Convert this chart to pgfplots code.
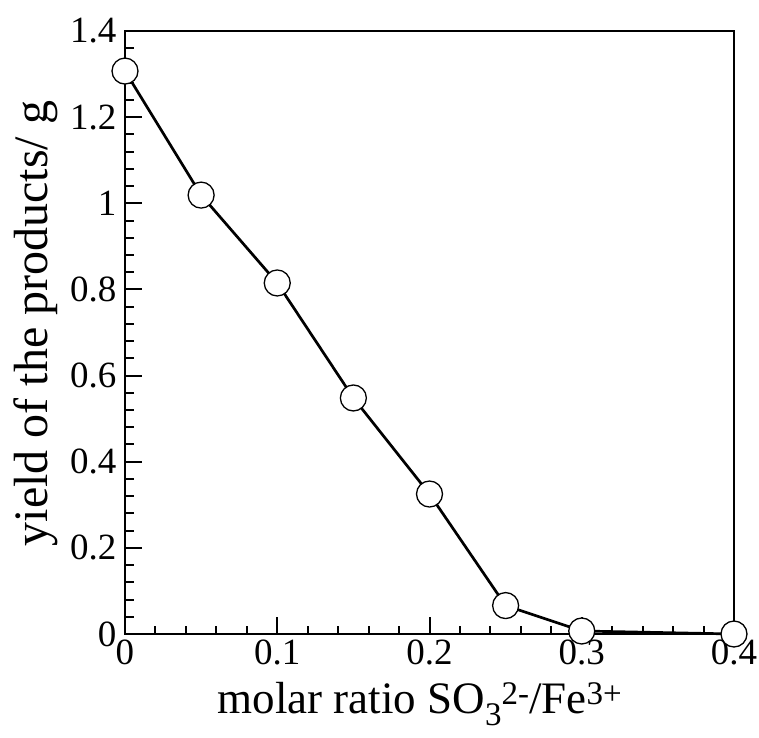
\documentclass[border=0pt]{standalone}
\usepackage{fontspec}
\setmainfont{Liberation Serif}
\usepackage{pgfplots}
\pgfplotsset{compat=1.18}
\newcommand{\supsc}[1]{\raisebox{9pt}{\fontsize{33}{33}\selectfont #1}}
\newcommand{\subsc}[1]{\raisebox{-12pt}{\fontsize{33}{33}\selectfont #1}}
\begin{document}
\begin{tikzpicture}
\path[use as bounding box] (-125pt,-103pt) rectangle (634pt,634pt);
\begin{axis}[
  at={(0pt,0pt)}, anchor=south west,
  scale only axis,
  width=609pt, height=603pt,
  xmin=0, xmax=0.4, ymin=0, ymax=1.4,
  xtick={0,0.1,0.2,0.3,0.4},
  ytick={0,0.2,0.4,0.6,0.8,1,1.2,1.4},
  minor x tick num=4, minor y tick num=4,
  tick align=inside,
  xtick pos=bottom, ytick pos=left,
  major tick length=17pt, minor tick length=8.5pt,
  every tick/.style={black, line width=2pt},
  axis line style={line width=2.6pt},
  /pgf/number format/assume math mode=true,
  tick label style={font=\fontsize{37}{42}\selectfont},
  xticklabel style={yshift=-2pt},
  yticklabel style={xshift=-5pt},
  xlabel={molar ratio SO\subsc{3}\supsc{2-}/Fe\supsc{3+}},
  ylabel={yield of the products/ g},
  xlabel style={font=\fontsize{45}{50}\selectfont, at={(axis description cs:0.484,-0.132)}, anchor=base},
  ylabel style={font=\fontsize{48}{54}\selectfont, at={(axis description cs:-0.146,0.515)}, anchor=center},
  clip=false,
]
\addplot[black, line width=2.7pt, mark=*, mark size=13pt,
  mark options={fill=white, draw=black, line width=1.3pt}]
  coordinates {
  (0,1.307) (0.05,1.019) (0.1,0.815) (0.15,0.548) (0.2,0.325)
  (0.25,0.066) (0.3,0.007) (0.4,0.0)
};
\end{axis}
\end{tikzpicture}
\end{document}
